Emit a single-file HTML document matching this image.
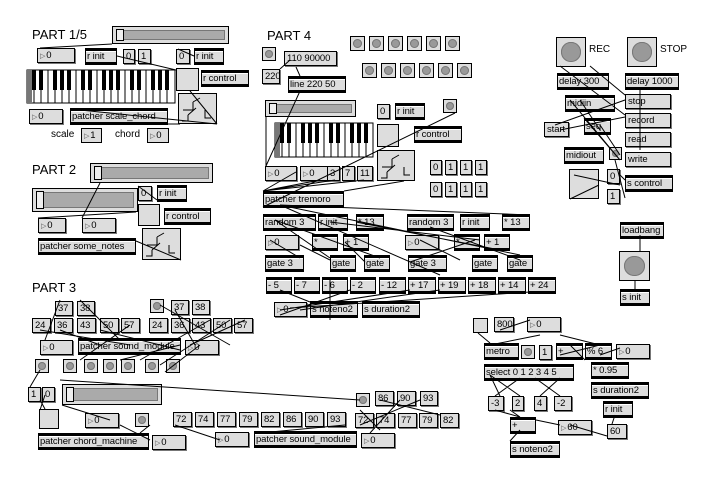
<!DOCTYPE html><html><head><style>
body{margin:0;width:712px;height:479px;background:#fff;position:relative;overflow:hidden;font-family:"Liberation Sans",sans-serif}
.t{position:absolute;font-size:9.5px;letter-spacing:-0.1px;height:15px;line-height:13px;box-sizing:border-box;padding-left:2px;white-space:nowrap;overflow:hidden;background:#ddd;border:1px solid #000;color:#000}
.o{border-top:3px solid #000;border-bottom:3px solid #000;height:17px;line-height:11px;box-shadow:inset 0 1px 0 #fff;padding-left:1px}
.m{box-shadow:1px 1px 0 #777}
.n::before{content:"▷";font-size:7px;color:#555;margin-right:1px}
.b{position:absolute;background:#ddd;border:1px solid #000;box-sizing:border-box}
.b::after{content:"";position:absolute;left:15%;top:15%;width:70%;height:70%;border-radius:50%;background:#999;box-shadow:inset 0 0 0 1px #777}
.sq{position:absolute;background:#ddd;border:1px solid #000;box-sizing:border-box}
.sl{position:absolute;background:#ddd;border:1px solid #000;box-sizing:border-box}
.sl::after{content:"";position:absolute;left:3px;top:3px;right:3px;bottom:3px;background:#aaa;border:1px solid #777}
.sl i{position:absolute;left:3px;top:2px;bottom:2px;width:6px;background:#eee;border:1px solid #000;z-index:2}
.lab{position:absolute;font-size:13px;color:#000}
.sm{position:absolute;font-size:10px}
svg{position:absolute;left:0;top:0}
</style></head><body>
<div class="lab" style="left:32px;top:27px">PART 1/5</div>
<div class="sl" style="left:112px;top:26px;width:117px;height:18px"><i></i></div>
<div class="t n m" style="left:37px;top:48px;width:38px">0</div>
<div class="t o" style="left:85px;top:48px;width:32px">r init</div>
<div class="t m" style="left:123px;top:49px;width:12px">0</div>
<div class="t m" style="left:138px;top:49px;width:13px">1</div>
<div class="t m" style="left:176px;top:49px;width:14px">0</div>
<div class="t o" style="left:194px;top:48px;width:30px">r init</div>
<div class="sq" style="left:176px;top:68px;width:23px;height:23px"></div>
<div class="t o" style="left:201px;top:70px;width:48px">r control</div>
<div class="sq" style="left:178px;top:93px;width:39px;height:31px"></div>
<div class="t n m" style="left:29px;top:109px;width:34px">0</div>
<div class="t o" style="left:70px;top:108px;width:98px">patcher scale_chord</div>
<div class="sm" style="left:51px;top:129px">scale</div>
<div class="t n" style="left:81px;top:128px;width:21px">1</div>
<div class="sm" style="left:115px;top:129px">chord</div>
<div class="t n" style="left:147px;top:128px;width:22px">0</div>

<div class="lab" style="left:32px;top:162px">PART 2</div>
<div class="sl" style="left:90px;top:163px;width:123px;height:20px"><i></i></div>
<div class="sl" style="left:32px;top:188px;width:106px;height:24px"><i></i></div>
<div class="t n m" style="left:38px;top:218px;width:28px">0</div>
<div class="t n m" style="left:82px;top:218px;width:34px">0</div>
<div class="t o" style="left:38px;top:238px;width:98px">patcher some_notes</div>
<div class="t m" style="left:138px;top:186px;width:14px">0</div>
<div class="t o" style="left:157px;top:185px;width:30px">r init</div>
<div class="sq" style="left:138px;top:204px;width:22px;height:22px"></div>
<div class="t o" style="left:164px;top:208px;width:47px">r control</div>
<div class="sq" style="left:142px;top:228px;width:39px;height:32px"></div>

<div class="lab" style="left:267px;top:28px">PART 4</div>
<div class="b" style="left:262px;top:47px;width:14px;height:14px"></div>
<div class="t m" style="left:284px;top:51px;width:53px">110 90000</div>
<div class="t m" style="left:262px;top:69px;width:18px">220</div>
<div class="t o" style="left:288px;top:76px;width:58px">line 220 50</div>
<div class="b" style="left:350px;top:36px;width:15px;height:15px"></div>
<div class="b" style="left:369px;top:36px;width:15px;height:15px"></div>
<div class="b" style="left:388px;top:36px;width:15px;height:15px"></div>
<div class="b" style="left:407px;top:36px;width:15px;height:15px"></div>
<div class="b" style="left:426px;top:36px;width:15px;height:15px"></div>
<div class="b" style="left:445px;top:36px;width:15px;height:15px"></div>
<div class="b" style="left:362px;top:63px;width:15px;height:15px"></div>
<div class="b" style="left:381px;top:63px;width:15px;height:15px"></div>
<div class="b" style="left:400px;top:63px;width:15px;height:15px"></div>
<div class="b" style="left:419px;top:63px;width:15px;height:15px"></div>
<div class="b" style="left:438px;top:63px;width:15px;height:15px"></div>
<div class="b" style="left:457px;top:63px;width:15px;height:15px"></div>
<div class="sl" style="left:265px;top:100px;width:91px;height:17px"><i></i></div>
<div class="t n m" style="left:265px;top:166px;width:32px">0</div>
<div class="t n m" style="left:300px;top:166px;width:28px">0</div>
<div class="t m" style="left:327px;top:166px;width:13px">3</div>
<div class="t m" style="left:342px;top:166px;width:13px">7</div>
<div class="t m" style="left:357px;top:166px;width:16px">11</div>
<div class="t m" style="left:377px;top:104px;width:13px">0</div>
<div class="t o" style="left:395px;top:103px;width:30px">r init</div>
<div class="sq" style="left:377px;top:124px;width:22px;height:23px"></div>
<div class="t o" style="left:414px;top:126px;width:48px">r control</div>
<div class="sq" style="left:377px;top:150px;width:38px;height:31px"></div>
<div class="b" style="left:443px;top:99px;width:14px;height:14px"></div>
<div class="t m" style="left:430px;top:160px;width:12px">0</div>
<div class="t m" style="left:445px;top:160px;width:12px">1</div>
<div class="t m" style="left:460px;top:160px;width:12px">1</div>
<div class="t m" style="left:475px;top:160px;width:12px">1</div>
<div class="t m" style="left:430px;top:182px;width:12px">0</div>
<div class="t m" style="left:445px;top:182px;width:12px">1</div>
<div class="t m" style="left:460px;top:182px;width:12px">1</div>
<div class="t m" style="left:475px;top:182px;width:12px">1</div>
<div class="t o" style="left:263px;top:191px;width:81px">patcher tremoro</div>
<div class="t o" style="left:263px;top:214px;width:53px">random 3</div>
<div class="t o" style="left:318px;top:214px;width:30px">r init</div>
<div class="t o" style="left:356px;top:214px;width:28px">* 13</div>
<div class="t o" style="left:407px;top:214px;width:47px">random 3</div>
<div class="t o" style="left:460px;top:214px;width:30px">r init</div>
<div class="t o" style="left:502px;top:214px;width:28px">* 13</div>
<div class="t n m" style="left:265px;top:235px;width:34px">0</div>
<div class="t o" style="left:312px;top:234px;width:26px">*</div>
<div class="t o" style="left:343px;top:234px;width:26px">+ 1</div>
<div class="t n m" style="left:405px;top:235px;width:34px">0</div>
<div class="t o" style="left:454px;top:234px;width:26px">*</div>
<div class="t o" style="left:484px;top:234px;width:26px">+ 1</div>
<div class="t o" style="left:265px;top:255px;width:39px">gate 3</div>
<div class="t o" style="left:330px;top:255px;width:26px">gate</div>
<div class="t o" style="left:364px;top:255px;width:26px">gate</div>
<div class="t o" style="left:408px;top:255px;width:39px">gate 3</div>
<div class="t o" style="left:472px;top:255px;width:26px">gate</div>
<div class="t o" style="left:507px;top:255px;width:26px">gate</div>
<div class="t o" style="left:266px;top:277px;width:26px">- 5</div>
<div class="t o" style="left:294px;top:277px;width:26px">- 7</div>
<div class="t o" style="left:322px;top:277px;width:26px">- 6</div>
<div class="t o" style="left:350px;top:277px;width:26px">- 2</div>
<div class="t o" style="left:379px;top:277px;width:27px">- 12</div>
<div class="t o" style="left:408px;top:277px;width:28px">+ 17</div>
<div class="t o" style="left:438px;top:277px;width:28px">+ 19</div>
<div class="t o" style="left:468px;top:277px;width:28px">+ 18</div>
<div class="t o" style="left:498px;top:277px;width:28px">+ 14</div>
<div class="t o" style="left:528px;top:277px;width:28px">+ 24</div>
<div class="t n m" style="left:274px;top:302px;width:33px">0</div>
<div class="t o" style="left:310px;top:301px;width:48px">s noteno2</div>
<div class="t o" style="left:362px;top:301px;width:58px">s duration2</div>

<div class="lab" style="left:32px;top:280px">PART 3</div>
<div class="t m" style="left:55px;top:301px;width:18px">37</div>
<div class="t m" style="left:77px;top:301px;width:18px">38</div>
<div class="t m" style="left:32px;top:318px;width:19px">24</div>
<div class="t m" style="left:54px;top:318px;width:19px">36</div>
<div class="t m" style="left:77px;top:318px;width:19px">43</div>
<div class="t m" style="left:100px;top:318px;width:19px">50</div>
<div class="t m" style="left:121px;top:318px;width:19px">57</div>
<div class="t n m" style="left:40px;top:340px;width:33px">0</div>
<div class="t o" style="left:78px;top:338px;width:103px">patcher sound_module</div>
<div class="t n m" style="left:185px;top:340px;width:34px">0</div>
<div class="b" style="left:35px;top:359px;width:14px;height:14px"></div>
<div class="b" style="left:63px;top:359px;width:14px;height:14px"></div>
<div class="b" style="left:84px;top:359px;width:14px;height:14px"></div>
<div class="b" style="left:103px;top:359px;width:14px;height:14px"></div>
<div class="b" style="left:121px;top:359px;width:14px;height:14px"></div>
<div class="b" style="left:145px;top:359px;width:14px;height:14px"></div>
<div class="b" style="left:166px;top:359px;width:14px;height:14px"></div>
<div class="b" style="left:150px;top:299px;width:14px;height:14px"></div>
<div class="t m" style="left:171px;top:300px;width:18px">37</div>
<div class="t m" style="left:192px;top:300px;width:18px">38</div>
<div class="t m" style="left:149px;top:318px;width:19px">24</div>
<div class="t m" style="left:171px;top:318px;width:19px">36</div>
<div class="t m" style="left:192px;top:318px;width:19px">43</div>
<div class="t m" style="left:213px;top:318px;width:19px">50</div>
<div class="t m" style="left:234px;top:318px;width:19px">57</div>
<div class="t m" style="left:28px;top:387px;width:13px">1</div>
<div class="t m" style="left:42px;top:387px;width:13px">0</div>
<div class="sl" style="left:62px;top:384px;width:100px;height:21px"><i></i></div>
<div class="sq" style="left:39px;top:409px;width:20px;height:20px"></div>
<div class="t n m" style="left:85px;top:413px;width:34px">0</div>
<div class="b" style="left:135px;top:413px;width:14px;height:14px"></div>
<div class="t o" style="left:38px;top:433px;width:111px">patcher chord_machine</div>
<div class="t n m" style="left:152px;top:435px;width:34px">0</div>
<div class="t m" style="left:173px;top:412px;width:19px">72</div>
<div class="t m" style="left:195px;top:412px;width:19px">74</div>
<div class="t m" style="left:217px;top:412px;width:19px">77</div>
<div class="t m" style="left:239px;top:412px;width:19px">79</div>
<div class="t m" style="left:261px;top:412px;width:19px">82</div>
<div class="t m" style="left:283px;top:412px;width:19px">86</div>
<div class="t m" style="left:305px;top:412px;width:19px">90</div>
<div class="t m" style="left:327px;top:412px;width:19px">93</div>
<div class="t n m" style="left:215px;top:432px;width:34px">0</div>
<div class="t o" style="left:254px;top:431px;width:103px">patcher sound_module</div>
<div class="t n m" style="left:361px;top:433px;width:34px">0</div>
<div class="b" style="left:356px;top:393px;width:14px;height:14px"></div>
<div class="t m" style="left:375px;top:391px;width:19px">86</div>
<div class="t m" style="left:397px;top:391px;width:19px">90</div>
<div class="t m" style="left:420px;top:391px;width:18px">93</div>
<div class="t m" style="left:355px;top:413px;width:19px">72</div>
<div class="t m" style="left:376px;top:413px;width:19px">74</div>
<div class="t m" style="left:398px;top:413px;width:19px">77</div>
<div class="t m" style="left:419px;top:413px;width:19px">79</div>
<div class="t m" style="left:440px;top:413px;width:19px">82</div>

<div class="b" style="left:556px;top:37px;width:30px;height:30px"></div>
<div class="sm" style="left:589px;top:44px">REC</div>
<div class="b" style="left:627px;top:37px;width:30px;height:30px"></div>
<div class="sm" style="left:660px;top:44px">STOP</div>
<div class="t o" style="left:557px;top:73px;width:52px">delay 300</div>
<div class="t o" style="left:625px;top:73px;width:54px">delay 1000</div>
<div class="t o" style="left:565px;top:95px;width:50px">midiin</div>
<div class="t m" style="left:625px;top:94px;width:46px">stop</div>
<div class="t m" style="left:625px;top:113px;width:46px">record</div>
<div class="t m" style="left:625px;top:132px;width:46px">read</div>
<div class="t m" style="left:625px;top:152px;width:46px">write</div>
<div class="t m" style="left:544px;top:122px;width:25px">start</div>
<div class="t o" style="left:584px;top:118px;width:27px">seq</div>
<div class="t o" style="left:564px;top:147px;width:40px">midiout</div>
<div class="b" style="left:609px;top:147px;width:13px;height:13px"></div>
<div class="t m" style="left:607px;top:169px;width:13px">0</div>
<div class="t m" style="left:607px;top:189px;width:13px">1</div>
<div class="sq" style="left:569px;top:169px;width:30px;height:30px"></div>
<div class="t o" style="left:625px;top:175px;width:48px">s control</div>
<div class="t o" style="left:620px;top:222px;width:44px">loadbang</div>
<div class="b" style="left:619px;top:251px;width:31px;height:30px"></div>
<div class="t o" style="left:620px;top:289px;width:30px">s init</div>
<div class="sq" style="left:473px;top:318px;width:15px;height:15px"></div>
<div class="t m" style="left:494px;top:317px;width:20px">800</div>
<div class="t n m" style="left:527px;top:317px;width:34px">0</div>
<div class="t o" style="left:484px;top:343px;width:35px">metro</div>
<div class="b" style="left:521px;top:345px;width:14px;height:14px"></div>
<div class="t m" style="left:539px;top:345px;width:13px">1</div>
<div class="t o" style="left:556px;top:343px;width:27px">+</div>
<div class="t o" style="left:585px;top:343px;width:27px">% 6</div>
<div class="t n m" style="left:616px;top:344px;width:34px">0</div>
<div class="t o" style="left:484px;top:364px;width:90px">select 0 1 2 3 4 5</div>
<div class="t o" style="left:591px;top:362px;width:38px">* 0.95</div>
<div class="t o" style="left:591px;top:382px;width:58px">s duration2</div>
<div class="t m" style="left:488px;top:396px;width:16px">-3</div>
<div class="t m" style="left:512px;top:396px;width:12px">2</div>
<div class="t m" style="left:534px;top:396px;width:13px">4</div>
<div class="t m" style="left:554px;top:396px;width:18px">-2</div>
<div class="t o" style="left:603px;top:401px;width:30px">r init</div>
<div class="t m" style="left:607px;top:424px;width:20px">60</div>
<div class="t o" style="left:510px;top:417px;width:26px">+</div>
<div class="t n m" style="left:558px;top:420px;width:34px">60</div>
<div class="t o" style="left:510px;top:441px;width:50px">s noteno2</div>

<svg width="712" height="479">
<rect x="27" y="70" width="148" height="33" fill="#fff" stroke="#000"/>
<g stroke="#000" stroke-width="1">
<path d="M34 70V103M41 70V103M48 70V103M55 70V103M62 70V103M69 70V103M76 70V103M83 70V103M90 70V103M97 70V103M104 70V103M111 70V103M118 70V103M125 70V103M132 70V103M139 70V103M146 70V103M153 70V103M160 70V103M167 70V103"/>
<path d="M282 123V157M289 123V157M296 123V157M303 123V157M310 123V157M317 123V157M324 123V157M331 123V157M338 123V157M345 123V157M352 123V157M359 123V157M366 123V157"/>
</g>
<rect x="27" y="70" width="5" height="33" fill="#777"/>
<g fill="#000">
<rect x="32" y="70" width="4" height="20"/><rect x="39" y="70" width="4" height="20"/><rect x="53" y="70" width="4" height="20"/><rect x="60" y="70" width="4" height="20"/><rect x="67" y="70" width="4" height="20"/>
<rect x="81" y="70" width="4" height="20"/><rect x="88" y="70" width="4" height="20"/><rect x="102" y="70" width="4" height="20"/><rect x="109" y="70" width="4" height="20"/><rect x="116" y="70" width="4" height="20"/>
<rect x="130" y="70" width="4" height="20"/><rect x="137" y="70" width="4" height="20"/><rect x="151" y="70" width="4" height="20"/><rect x="158" y="70" width="4" height="20"/><rect x="165" y="70" width="4" height="20"/>
</g>
<rect x="275" y="123" width="98" height="34" fill="none" stroke="#000"/>
<rect x="275" y="123" width="5" height="34" fill="#777"/>
<g fill="#000">
<rect x="280" y="123" width="4" height="20"/><rect x="287" y="123" width="4" height="20"/><rect x="301" y="123" width="4" height="20"/><rect x="308" y="123" width="4" height="20"/><rect x="315" y="123" width="4" height="20"/>
<rect x="329" y="123" width="4" height="20"/><rect x="336" y="123" width="4" height="20"/><rect x="350" y="123" width="4" height="20"/><rect x="357" y="123" width="4" height="20"/><rect x="364" y="123" width="4" height="20"/>
</g>
<g stroke="#000" fill="none" stroke-width="1">
<path d="M183 110h10v-8M193 102l7 -4M188 115l8-7M188 115v6h-6M205 110v8h6"/>
<path d="M147 245h10v-8M157 237l7 -4M152 250l8-7M152 250v6h-6M169 245v8h6"/>
<path d="M382 167h10v-8M392 159l7-4M387 172l8-7M387 172v6h-6M404 167v8h6"/>
<path d="M112 44L40 48M117 56L176 70M70 109L217 124M194 56L178 49M190 91L217 124M148 124L180 124M100 183L82 218M136 212L38 218M138 186L157 200M136 241L181 260M290 60L280 69M296 67L300 76M300 91L266 166M266 117L266 166M455 113L263 207M296 172L263 191M320 180L263 191M335 180L263 191M364 180L263 191M404 181L344 191M280 205L440 275M280 205L520 255M280 205L530 215M275 220L330 258M275 220L380 258M330 222L480 240M356 222L500 250M270 240L300 258M300 245L330 260M345 242L365 262M420 240L460 260M430 227L520 260M475 240L410 262M280 290L310 302M350 290L280 315M330 280L330 320M410 290L280 310M440 290L300 310M530 292L290 308M60 300L45 340M80 300L120 340M40 330L130 345M60 330L100 345M180 345L120 360M100 330L180 350M130 325L80 360M160 305L230 345M175 310L195 345M210 320L140 360M230 320L160 365M245 320L190 345M200 345L165 372M40 370L30 387M60 380L360 400M40 400L45 409M45 395L40 410M62 405L110 420M120 425L150 440M150 425L140 433M175 425L220 440M345 425L260 433M360 410L380 430M380 400L440 415M400 400L370 433M420 400L360 425M590 66L625 95M560 66L625 115M570 100L620 160M580 100L600 130M584 118L620 160M560 130L625 117M555 125L625 100M640 90L640 150M600 125L620 155M620 175L625 180M574 175L620 185M599 185L570 199M615 160L625 198M640 235L640 251M635 281L635 290M478 333L490 343M500 330L530 320M540 335L490 345M560 335L600 345M570 345L585 360M600 345L560 355M620 348L600 355M490 375L500 396M490 375L520 396M520 378L495 396M560 378L540 396M535 378L560 396M495 410L520 417M510 410L520 417M520 430L510 441M536 420L560 425M570 425L607 436M615 415L612 424"/>
</g>
</svg>
</body></html>
